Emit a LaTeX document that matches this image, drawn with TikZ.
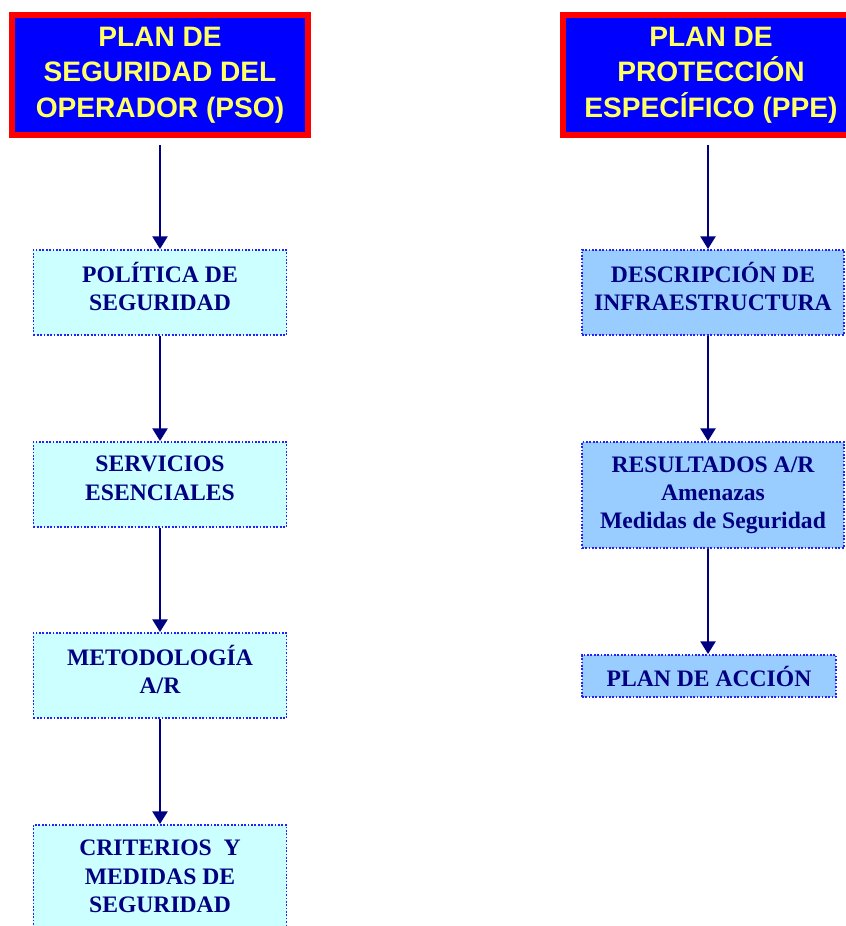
\documentclass[tikz,border=0pt]{standalone}
\usepackage{fontspec}
\setmainfont{Liberation Serif}
\newfontfamily\headfont{Liberation Sans}
\usetikzlibrary{arrows.meta}
\definecolor{plannavy}{HTML}{000080}
\definecolor{planblue}{HTML}{0000FF}
\definecolor{planyellow}{HTML}{FFFF66}
\definecolor{planred}{HTML}{FF0000}
\definecolor{dotblue}{HTML}{2222FF}
\definecolor{psofill}{HTML}{CCFFFF}
\definecolor{ppefill}{HTML}{99CCFF}

\begin{document}
\begin{tikzpicture}[x=0.025cm, y=-0.025cm,
		plan/.style = {draw=planred, fill=planblue, line width=4.3pt, text=planyellow,
			font=\headfont\bfseries\fontsize{20}{25.3}\selectfont, align=center,
			minimum width=7.375cm, minimum height=3cm, inner sep=0pt},
		etapa/.style = {draw=dotblue, line width=1.3pt, dash pattern=on 1.2pt off 1.2pt,
			text=plannavy, font=\bfseries\fontsize{16.8}{20}\selectfont, align=center,
			minimum height=2.125cm, inner sep=0pt},
		alto/.style = {text depth=#1},
		flecha/.style = {draw=plannavy, line width=2pt, -{Triangle[width=10.5pt,length=9pt]}}]

			\useasboundingbox (0,0) rectangle (846,926);
			\clip (0,0) rectangle (846,926);

			\node[plan] (pso) at (160,75) {PLAN DE\\SEGURIDAD DEL\\OPERADOR (PSO)};
			\node[plan] (ppe) at (711,75) {PLAN DE\\PROTECCIÓN\\ESPECÍFICO (PPE)};

			\begin{scope}[every node/.append style = {etapa, fill=psofill, minimum width=6.325cm}]
				\node[alto=9pt] (politica) at (160,292.5) {POLÍTICA DE\\SEGURIDAD};
				\node[alto=9pt] (servicios) at (160,484.5) {SERVICIOS\\ESENCIALES};
				\node[alto=9pt] (metodo) at (160,675.5) {METODOLOGÍA\\A/R};
				\node[alto=4pt, minimum height=2.7cm] (criterios) at (160,879) {CRITERIOS~ Y\\MEDIDAS DE\\SEGURIDAD};
			\end{scope}

			\begin{scope}[every node/.append style = {etapa, fill=ppefill}]
				\node[alto=9pt, minimum width=6.55cm] (descripcion) at (713,292.5) {DESCRIPCIÓN DE\\INFRAESTRUCTURA};
				\node[minimum width=6.55cm, minimum height=2.65cm] (resultados) at (713,495) {RESULTADOS A/R\\Amenazas\\Medidas de Seguridad};
				\node[minimum width=6.35cm, minimum height=1.05cm] (accion) at (709,676) {PLAN DE ACCIÓN};
			\end{scope}

			\draw[flecha, shorten <=5pt] (pso.south) -- (politica.north);
			\draw[flecha] (politica) -- (servicios);
			\draw[flecha] (servicios) -- (metodo);
			\draw[flecha] (metodo) -- (criterios);

			\draw[flecha, shorten <=5pt] (ppe.south -| 708,0) -- (descripcion.north -| 708,0);
			\draw[flecha] (descripcion.south -| 708,0) -- (resultados.north -| 708,0);
			\draw[flecha] (resultados.south -| 708,0) -- (accion.north -| 708,0);
		\end{tikzpicture}
\end{document}
